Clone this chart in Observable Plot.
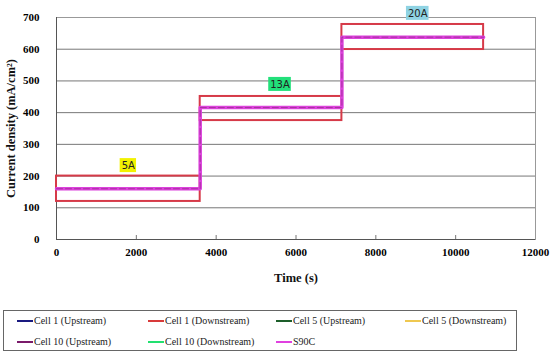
<!DOCTYPE html>
<html><head><meta charset="utf-8">
<script src="https://cdn.jsdelivr.net/npm/d3@7"></script>
<script src="https://cdn.jsdelivr.net/npm/@observablehq/plot@0.6"></script>
<style>
body{margin:0;background:#fff;}
#legend{position:absolute;left:3px;top:310px;width:514px;height:41px;border:1px solid #666;box-sizing:border-box;font-family:'Liberation Serif','DejaVu Serif',serif;font-size:10px;color:#222;}
.li{position:absolute;display:flex;align-items:center;}
.sw{width:16px;height:2px;margin-right:1px;}
svg text{font-family:'Liberation Serif','DejaVu Serif',serif;}
</style></head>
<body>
<div id="chart"></div>
<div id="legend"></div>
<script>
// S90C step line (time s, current density mA/cm2)
const s90cTime = [0, 3600, 3600, 7150, 7150, 10700];
const s90cValue = [160, 160, 416, 416, 638, 638];
// red boxes around each current step
const boxStart = [0, 3600, 7150];
const boxEnd = [3600, 7150, 10700];
const boxLow = [120, 375, 599];
const boxHigh = [200, 451, 678];
// step labels
const labelText = ["5A", "13A", "20A"];
const labelX = [1800, 5600, 9050];
const labelY = [233, 489, 713];
const labelColor = ["#f2f200", "#22e07a", "#8fd3e3"];
// legend
const seriesNames = ["Cell 1 (Upstream)", "Cell 1 (Downstream)", "Cell 5 (Upstream)", "Cell 5 (Downstream)", "Cell 10 (Upstream)", "Cell 10 (Downstream)", "S90C"];
const seriesColors = ["#1a1a80", "#d83a3a", "#1d5e2a", "#efc850", "#7a1a6a", "#22e070", "#e040e0"];
const xTicks = [0, 2000, 4000, 6000, 8000, 10000, 12000];
const yTicks = [0, 100, 200, 300, 400, 500, 600, 700];

const line = s90cTime.map((t, i) => ({t, v: s90cValue[i]}));
const boxes = boxStart.map((s, i) => ({x1: s, x2: boxEnd[i], y1: boxLow[i], y2: boxHigh[i]}));
const labels = labelText.map((s, i) => ({s, x: labelX[i], y: labelY[i], c: labelColor[i]}));

const serif = "'Liberation Serif', 'DejaVu Serif', serif";
const sans = "'DejaVu Sans', sans-serif";

function labelMark(data) {
  return Plot.text(data, {
    x: "x", y: "y", text: "s", fontSize: 10, fill: "#222",
    render(index, scales, values, dims, ctx, next) {
      const g = next(index, scales, values, dims, ctx);
      g.querySelectorAll("text").forEach(t => t.style.fontFamily = sans);
      const ns = "http://www.w3.org/2000/svg";
      const bg = document.createElementNS(ns, "g");
      for (const i of index) {
        const w = data[i].s.length * 6.2 + 4;
        const r = document.createElementNS(ns, "rect");
        r.setAttribute("x", values.x[i] - w / 2);
        r.setAttribute("y", values.y[i] - 7);
        r.setAttribute("width", w);
        r.setAttribute("height", 14);
        r.setAttribute("fill", data[i].c);
        bg.appendChild(r);
      }
      const wrap = document.createElementNS(ns, "g");
      wrap.appendChild(bg);
      wrap.appendChild(g);
      return wrap;
    }
  });
}

const chart = Plot.plot({
  width: 550,
  height: 308,
  marginLeft: 56,
  marginRight: 15,
  marginTop: 17,
  marginBottom: 69,
  style: {fontFamily: serif, background: "#fff", overflow: "visible"},
  x: {domain: [0, 12000]},
  y: {domain: [0, 700]},
  marks: [
    Plot.gridY(yTicks.slice(1), {stroke: "#777", strokeOpacity: 1}),
    Plot.frame({stroke: "#999"}),
    Plot.ruleX([0], {stroke: "#555"}),
    Plot.ruleY([0], {stroke: "#555"}),
    Plot.axisY(yTicks, {tickSize: 0, tickPadding: 17, fontSize: 11, fontWeight: "bold", tickFormat: d3.format("d"), label: null}),
    Plot.axisX(xTicks, {tickSize: 0, tickPadding: 9, fontSize: 11, fontWeight: "bold", tickFormat: d3.format("d"), label: null}),
    Plot.tickX(xTicks.slice(1, -1), {x: d => d, stroke: "#777", strokeWidth: 1, render(index, scales, values, dims, ctx, next) {
      const g = next(index, scales, values, dims, ctx);
      const y = dims.height - dims.marginBottom;
      g.querySelectorAll("line").forEach(l => { l.setAttribute("y1", y - 4); l.setAttribute("y2", y); });
      return g;
    }}),
    Plot.text(["Time (s)"], {frameAnchor: "bottom", dy: 42, fontSize: 12.5, fontWeight: "bold", fill: "#111"}),
    Plot.text(["Current density (mA/cm²)"], {frameAnchor: "left", textAnchor: "middle", dx: -46, rotate: -90, fontSize: 12.5, fontWeight: "bold", fill: "#111"}),
    Plot.rect(boxes, {x1: "x1", x2: "x2", y1: "y1", y2: "y2", fill: "none", stroke: "#d63a48", strokeWidth: 2}),
    Plot.line(line, {x: "t", y: "v", stroke: "#dc42dc", strokeWidth: 3.5}),
    Plot.line(line, {x: "t", y: "v", stroke: "#9a2a90", strokeWidth: 0.8, strokeDasharray: "6,3"}),
    labelMark(labels)
  ]
});
document.getElementById("chart").appendChild(chart);

const leg = document.getElementById("legend");
const colX = [13, 144, 272, 401];
seriesNames.forEach((n, i) => {
  const d = document.createElement("div");
  d.className = "li";
  d.style.left = colX[i % 4] + "px";
  d.style.top = (i < 4 ? 4 : 25) + "px";
  d.innerHTML = `<span class="sw" style="background:${seriesColors[i]}"></span><span>${n}</span>`;
  leg.appendChild(d);
});
</script>
</body></html>
